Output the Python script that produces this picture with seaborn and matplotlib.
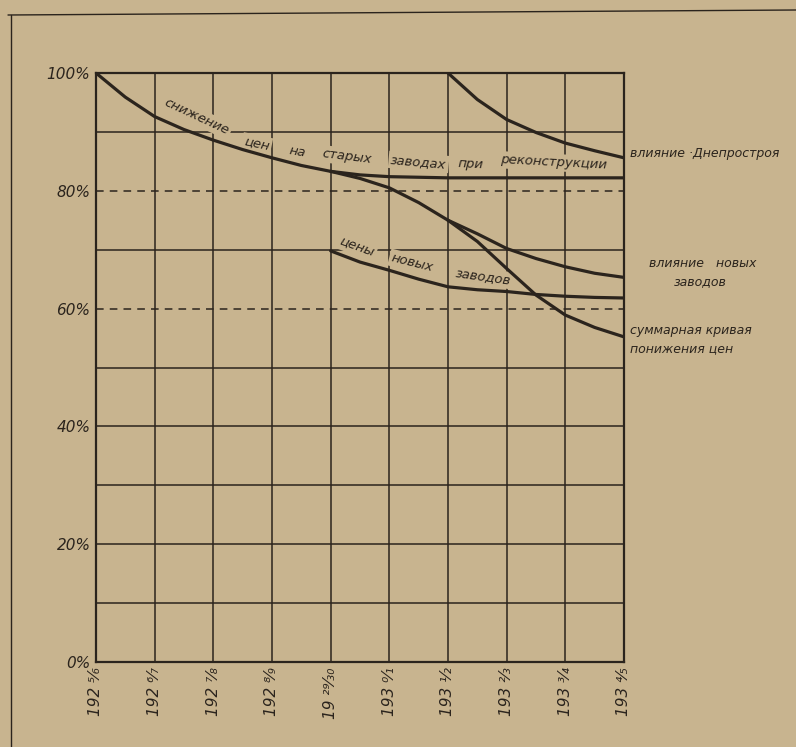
import matplotlib
matplotlib.use("Agg")
import matplotlib.pyplot as plt
from matplotlib.lines import Line2D
import seaborn as sns

## colours of the old paper print
paper = '#c8b48f'
ink = '#2b241d'

## x positions are season indices 1925/26 ... 1934/35
season_labels = ['192 ⁵⁄₆', '192 ⁶⁄₇', '192 ⁷⁄₈', '192 ⁸⁄₉', '19 ²⁹⁄₃₀',
                 '193 ⁰⁄₁', '193 ¹⁄₂', '193 ²⁄₃', '193 ³⁄₄', '193 ⁴⁄₅']

# price reduction at old plants under reconstruction (%)
old_x = [0, 0.5, 1, 1.5, 2, 2.5, 3, 3.5, 4, 4.5, 5, 6, 7, 8, 9]
old_y = [100, 95.9, 92.6, 90.4, 88.6, 87.0, 85.6, 84.3, 83.3, 82.7, 82.4, 82.2, 82.2, 82.2, 82.2]

# summary curve of price lowering (%)
sum_x = [4, 4.5, 5, 5.5, 6, 6.5, 7, 7.5, 8, 8.5, 9]
sum_y = [83.3, 82.1, 80.5, 78.0, 75.0, 71.4, 66.8, 62.3, 58.9, 56.8, 55.2]

# prices at new plants (%)
new_x = [4, 4.5, 5, 5.5, 6, 6.5, 7, 7.5, 8, 8.5, 9]
new_y = [69.8, 67.9, 66.5, 65.0, 63.7, 63.2, 62.9, 62.4, 62.1, 61.9, 61.8]

# influence of new plants (%)
infl_x = [6, 6.5, 7, 7.5, 8, 8.5, 9]
infl_y = [75.0, 72.7, 70.2, 68.5, 67.1, 66.0, 65.3]

# influence of Dneprostroi (%)
dnepr_x = [6, 6.5, 7, 7.5, 8, 8.5, 9]
dnepr_y = [100, 95.5, 92.1, 89.9, 88.1, 86.8, 85.6]

grid_levels = [10, 20, 30, 40, 50, 60, 70, 80, 90]
dashed_levels = [60, 80]
ytick_values = [0, 20, 40, 60, 80, 100]

sns.set_style("white")
plt.rcParams['font.family'] = ['DejaVu Sans']

fig = plt.figure(figsize=(7.96, 7.47), dpi=100, facecolor=paper)
ax = fig.add_axes([96 / 796, 1 - 662 / 747, 528 / 796, 589 / 747])
ax.set_facecolor(paper)

# grid
for i in range(1, 9):
    ax.axvline(i, color=ink, lw=1.1, zorder=1)
for lev in grid_levels:
    if lev in dashed_levels:
        ax.axhline(lev, color=ink, lw=1.1, ls=(0, (5, 4)), zorder=1)
    else:
        ax.axhline(lev, color=ink, lw=1.1, zorder=1)

# curves
for xs, ys in [(old_x, old_y), (sum_x, sum_y), (new_x, new_y),
               (infl_x, infl_y), (dnepr_x, dnepr_y)]:
    sns.lineplot(x=xs, y=ys, ax=ax, color=ink, lw=2.3, zorder=4,
                 estimator=None, sort=False)

ax.set_xlim(0, 9)
ax.set_ylim(0, 100)
for s in ax.spines.values():
    s.set_color(ink)
    s.set_linewidth(1.6)
    s.set_visible(True)

ax.set_xticks(range(len(season_labels)))
ax.set_xticklabels(season_labels, rotation=90, fontsize=11, style='italic',
                   color=ink, va='top')
ax.set_yticks(ytick_values)
ax.set_yticklabels([f'{v}%' for v in ytick_values], fontsize=11,
                   style='italic', color=ink)
ax.tick_params(length=0, pad=4)
ax.set_xlabel('')
ax.set_ylabel('')

box = dict(facecolor=paper, edgecolor='none', pad=1.5)
lab = dict(fontsize=9.5, style='italic', color=ink, ha='center',
           va='center', zorder=3, bbox=box)

# curved label of the old plants line, word by word
old_words = [('снижение', 1.72, 92.6, -25), ('цен', 2.74, 88.0, -12),
             ('на', 3.43, 86.6, -9), ('старых', 4.28, 85.8, -7),
             ('заводах', 5.5, 84.9, -5), ('при', 6.39, 84.6, -3),
             ('реконструкции', 7.8, 84.8, -3)]
for w, x, y, r in old_words:
    ax.text(x, y, w, rotation=r, **lab)

new_words = [('цены', 4.45, 70.5, -20), ('новых', 5.39, 67.8, -14),
             ('заводов', 6.6, 65.4, -8)]
for w, x, y, r in new_words:
    ax.text(x, y, w, rotation=r, **lab)

# labels on the right
side = dict(fontsize=9, style='italic', color=ink)
fig.text(630 / 796, 1 - 153 / 747, 'влияние ·Днепростроя', va='center', **side)
fig.text(703 / 796, 1 - 264 / 747, 'влияние   новых', va='center', ha='center', **side)
fig.text(700 / 796, 1 - 282 / 747, 'заводов', va='center', ha='center', **side)
fig.text(630 / 796, 1 - 331 / 747, 'суммарная кривая', va='center', **side)
fig.text(630 / 796, 1 - 349 / 747, 'понижения цен', va='center', **side)

# page frame of the print
fig.add_artist(Line2D([8 / 796, 1], [1 - 15 / 747, 1 - 10 / 747],
                      transform=fig.transFigure, color=ink, lw=1.0))
fig.add_artist(Line2D([11 / 796, 11 / 796], [1 - 15 / 747, 0],
                      transform=fig.transFigure, color=ink, lw=1.0))

fig.savefig('out.png', dpi=100, facecolor=paper)
